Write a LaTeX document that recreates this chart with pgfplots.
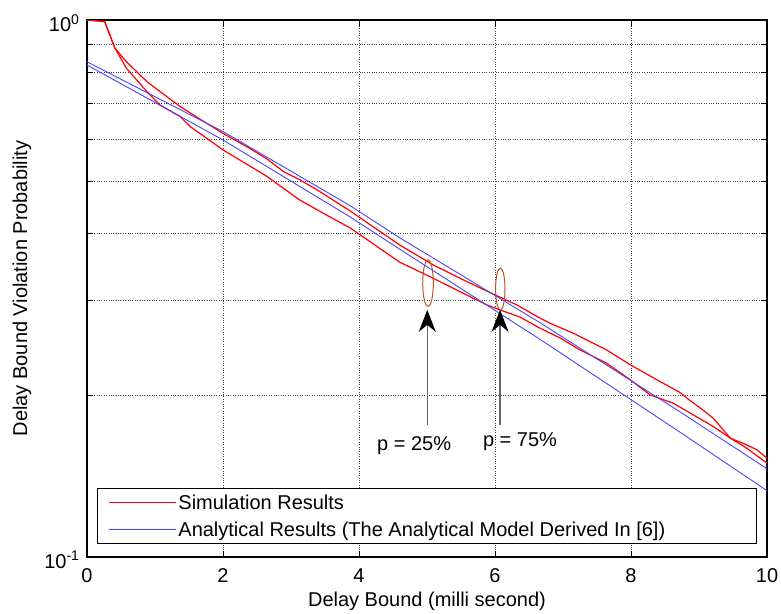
\documentclass[border=0pt]{standalone}
\usepackage{fontspec}
\setmainfont{Liberation Sans}
\usepackage{pgfplots}
\pgfplotsset{compat=1.18}
\usetikzlibrary{arrows.meta, calc}
\definecolor{simred}{RGB}{255,0,0}
\definecolor{anablue}{RGB}{70,70,255}
\definecolor{ellbrown}{RGB}{185,85,35}
\newcommand\f{\fontsize{20bp}{24bp}\selectfont}

\begin{document}
\begin{tikzpicture}
\begin{axis}[
  scale only axis,
  width=680bp, height=537bp,
  xmin=0, xmax=10, ymin=0.1, ymax=1,
  ymode=log,
  xtick={0,2,4,6,8,10},
  ytick={0.1,1},
  yticklabels={10\textsuperscript{-1},10\textsuperscript{0}},
  minor ytick={0.2,0.3,0.4,0.5,0.6,0.7,0.8,0.9},
  xmajorgrids=true, yminorgrids=true,
  grid style={black!75, dotted, line width=0.7bp},
  tick align=inside,
  major tick length=6bp, minor tick length=6bp,
  tick style={black, line width=0.8bp},
  axis line style={black, line width=1.2bp},
  /pgf/number format/assume math mode=true,
  xticklabel style={font=\f, yshift=-8bp},
  yticklabel style={font=\f, xshift=-4bp, yshift=-3bp},
  xlabel={Delay Bound (milli second)},
  ylabel={Delay Bound Violation Probability},
  xlabel style={font=\f, at={(axis description cs:0.5,-0.0819)}, anchor=center},
  ylabel style={font=\f, at={(axis description cs:-0.0956,0.5)}, anchor=center},
  legend cell align=left,
  legend image code/.code={\draw[#1] (0bp,0bp) -- (63bp,0bp); \path (0bp,0bp) -- (67bp,0bp);},
  legend style={at={(rel axis cs:0.0143,0.128)}, anchor=north west,
    draw=black, line width=1bp, font=\f, row sep=7bp,
    inner xsep=11bp, inner ysep=4bp},
]
% simulation results (two cases)
\addplot[simred, line width=1.2bp] coordinates {
  (0,1.0) (0.26,0.993) (0.41,0.887) (0.58,0.836) (0.88,0.768) (1.37,0.690)
  (1.66,0.654) (2.0,0.615) (2.35,0.581) (2.64,0.552) (2.89,0.522) (3.13,0.504)
  (3.38,0.483) (3.87,0.441) (4.60,0.381) (5.09,0.350) (5.58,0.326) (6.0,0.3077)
  (6.32,0.2948) (6.66,0.2786) (6.81,0.2725) (7.15,0.2611) (7.64,0.243)
  (7.99,0.228) (8.38,0.2138) (8.72,0.2025) (8.87,0.1955) (9.02,0.1894)
  (9.21,0.1814) (9.46,0.1665) (9.70,0.1618) (9.85,0.1584) (10,0.1528)
};
\addlegendentry{Simulation Results}
\addplot[simred, line width=1.2bp, forget plot] coordinates {
  (0,1.0) (0.26,0.993) (0.41,0.887) (0.58,0.813) (0.88,0.736) (1.07,0.695)
  (1.37,0.661) (1.52,0.633) (1.66,0.615) (2.0,0.573) (2.15,0.558) (2.64,0.512)
  (3.13,0.462) (3.57,0.430) (3.87,0.410) (4.60,0.354) (5.09,0.3305)
  (5.58,0.3077) (5.88,0.2948) (6.07,0.2886) (6.37,0.2797) (6.66,0.2668)
  (6.96,0.2557) (7.25,0.243) (7.64,0.2296) (7.99,0.2138) (8.28,0.2004)
  (8.62,0.1934) (8.87,0.1854) (9.21,0.175) (9.5,0.1653) (9.70,0.1595) (10,0.1496)
};
% analytical model
\addplot[anablue, line width=0.9bp] coordinates {
  (0,0.836) (1.66,0.652) (2,0.620) (3.87,0.451) (4.6,0.393) (6.66,0.2732)
  (8.72,0.1864) (10,0.146)
};
\addlegendentry{Analytical Results (The Analytical Model Derived In [6])\hspace*{78bp}}
\addplot[anablue, line width=0.9bp, forget plot] coordinates {
  (0,0.8246) (1.66,0.6315) (2,0.5978) (3.87,0.4298) (4.6,0.3743) (6.66,0.2544)
  (8.67,0.1725) (10,0.1329)
};
% annotations
\draw[ellbrown, line width=1bp] (axis cs:5.015,0.3236) ellipse [x radius=5.3bp, y radius=23.3bp];
\draw[ellbrown, line width=1bp] (axis cs:6.078,0.3155) ellipse [x radius=4.7bp, y radius=21bp];
\draw[black!60, line width=1.3bp, -{Stealth[length=22bp, width=17bp, inset=7bp, color=black]}]
  (axis cs:5.004,0.1763) -- (axis cs:5.004,0.2886);
\draw[black!60, line width=1.3bp, -{Stealth[length=22bp, width=17bp, inset=7bp, color=black]}]
  (axis cs:6.074,0.1763) -- (axis cs:6.074,0.2886);
\node[font=\f] at (axis cs:4.81,0.1611) {p = 25\%};
\node[font=\f] at (axis cs:6.368,0.1641) {p = 75\%};
\end{axis}
\pgfresetboundingbox
\path[use as bounding box] ($(current axis.south west)+(-87bp,-57bp)$)
  rectangle ($(current axis.north east)+(14bp,20bp)$);
\end{tikzpicture}
\end{document}
